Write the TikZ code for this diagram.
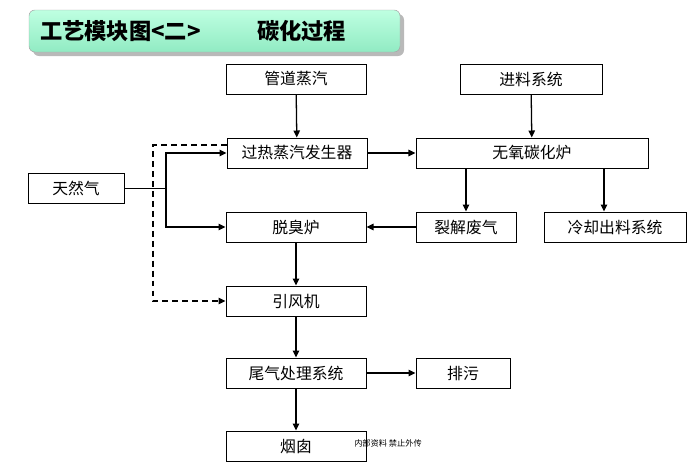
\documentclass[tikz,border=0pt]{standalone}
\usepackage{fontspec}
\newfontfamily\cjk{Noto Sans CJK SC}
\usetikzlibrary{arrows.meta, positioning, calc}

\begin{document}
\begin{tikzpicture}[
    x=0.03cm, y=-0.03cm,
    every node/.style = {font=\cjk\fontsize{13.5}{15}\selectfont},
    box/.style = {
        draw,
        line width=0.8pt,
        minimum width=4.2cm,
        minimum height=0.9cm,
        inner sep=0pt
    },
    arr/.style = {
        -{Triangle[length=6pt,width=5.5pt]},
        line width=1.1pt
    },
    dasharr/.style = {
        arr,
        dash pattern=on 5pt off 3.5pt
    },
    headline/.style = {
        anchor=west,
        font=\cjk\bfseries\fontsize{19}{22}\selectfont
    }
]
\useasboundingbox (0,0) rectangle (691,462);

%% Title banner
\fill[gray!55, rounded corners=5pt] (33,14) rectangle (404,56);
\shade[top color={rgb,255:red,190;green,255;blue,225},
       bottom color={rgb,255:red,145;green,235;blue,195},
       draw=gray!70, rounded corners=5pt]
    (29,10) rectangle (400,52);
\node[headline] (title)    at (36,31)  {工艺模块图<二>};
\node[headline] (subtitle) at (253,31) {碳化过程};

%% Main column
\node[box] (steam)   at (296,79)  {管道蒸汽};
\node[box] (super)   at (297,153) {过热蒸汽发生器};
\node[box] (deodor)  at (296,227) {脱臭炉};
\node[box] (fan)     at (296,301) {引风机};
\node[box] (tailgas) at (296,373) {尾气处理系统};
\node[box] (chimney) at (296,446) {烟囱};

%% Right side
\node[box, minimum width=4.26cm] (feed)    at (531,79)  {进料系统};
\node[box, minimum width=6.96cm] (furnace) at (532,153) {无氧碳化炉};
\node[box, minimum width=3cm]    (crack)   at (466,227) {裂解废气};
\node[box, minimum width=4.26cm] (cool)    at (615,227) {冷却出料系统};
\node[box, minimum width=2.82cm] (drain)   at (463,373) {排污};

%% Natural gas
\node[box, minimum width=2.88cm] (gas) at (76,188) {天然气};
\coordinate (split) at (166,188);
\coordinate (dash)  at (153,188);

%% Footer
\node[font=\cjk\fontsize{7}{8}\selectfont] (note) at (388,443) {内部资料\ 禁止外传};

%% Arrows
\draw[arr] (steam)   -- (super);
\draw[arr] (feed)    -- (furnace);
\draw[arr] (super)   -- (furnace);
\draw[arr] (furnace.south -| crack) -- (crack);
\draw[arr] (furnace.south -| 604,0) -- (cool.north -| 604,0);
\draw[arr] (crack)   -- (deodor);
\draw[arr] (deodor)  -- (fan);
\draw[arr] (fan)     -- (tailgas);
\draw[arr] (tailgas) -- (drain);
\draw[arr] (tailgas) -- (chimney);

%% Gas supply
\draw[line width=0.6pt] (gas) -- (split);
\draw[arr] (split) |- (super.west);
\draw[arr] (split) |- (deodor.west);
\draw[dasharr] ($(super.west)+(0,-8)$) -| (dash) |- (fan.west);

\end{tikzpicture}
\end{document}
